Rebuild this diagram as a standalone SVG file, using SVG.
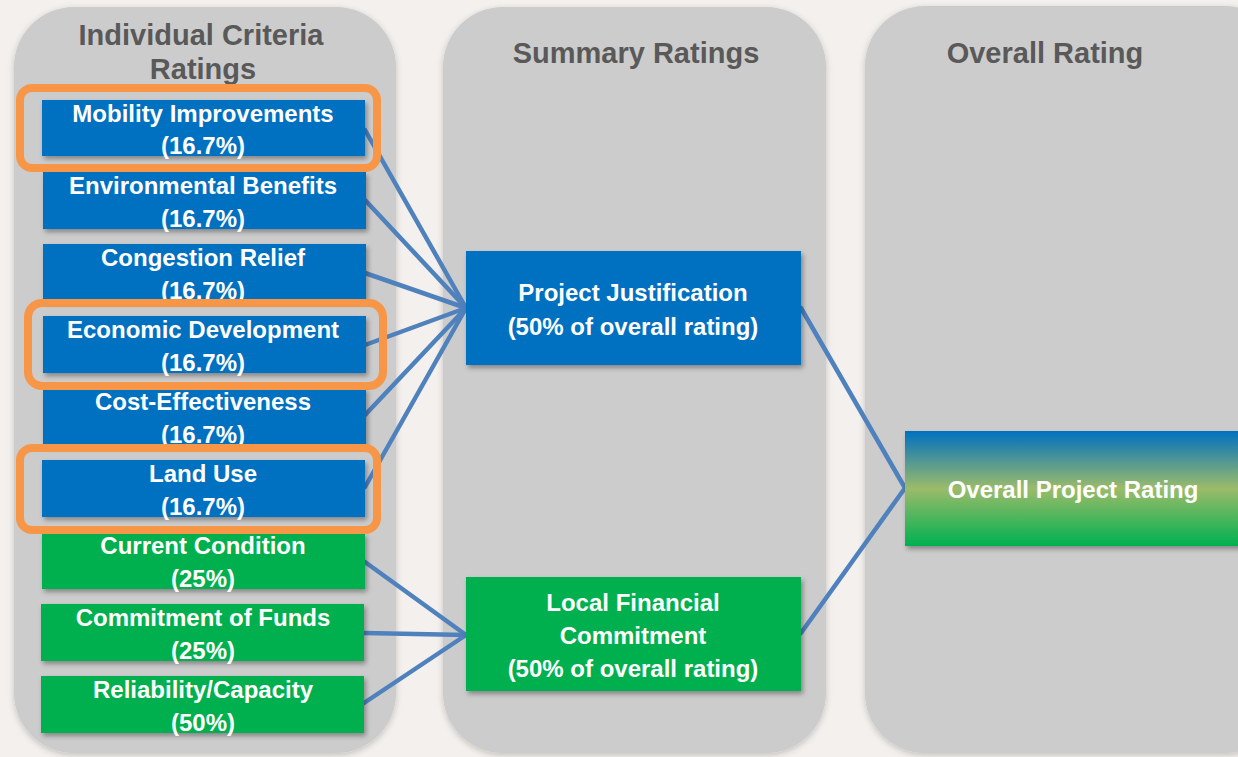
<svg xmlns="http://www.w3.org/2000/svg" width="1238" height="757" viewBox="0 0 1238 757">
<style>
.panel{fill:#cccccc;filter:url(#ps)}
.title{font-family:"Liberation Sans",Arial,sans-serif;font-weight:bold;font-size:29px;fill:#595959;text-anchor:middle}
.blue{fill:#0070c0;filter:url(#sh)}
.green{fill:#00b050;filter:url(#sh)}
.lbl{font-family:"Liberation Sans",Arial,sans-serif;font-weight:bold;font-size:24px;fill:#ffffff;text-anchor:middle}
.hl{fill:none;stroke:#f79646;stroke-width:8}
.conn line{stroke:#4f81bd;stroke-width:4.5;stroke-linecap:round}
</style>
<defs>
<filter id="sh" x="-10%" y="-20%" width="125%" height="150%">
<feDropShadow dx="2" dy="3" stdDeviation="2.5" flood-color="#000" flood-opacity="0.35"/>
</filter>
<filter id="ps" x="-10%" y="-10%" width="120%" height="120%">
<feDropShadow dx="0" dy="2" stdDeviation="3" flood-color="#000" flood-opacity="0.2"/>
</filter>
<linearGradient id="og" x1="0" y1="0" x2="0" y2="1">
<stop offset="0" stop-color="#0070c0"/>
<stop offset="0.5" stop-color="#9bbb6a"/>
<stop offset="1" stop-color="#00b050"/>
</linearGradient>
</defs>
<rect width="1238" height="757" fill="#f3f0ed"/>
<g id="panel-individual">
<rect class="panel" x="14" y="7" width="382" height="746" rx="60"/>
<text class="title" x="201" y="45">Individual Criteria</text>
<text class="title" x="203" y="79">Ratings</text>
</g>
<g id="panel-summary">
<rect class="panel" x="443" y="7" width="383" height="746" rx="60"/>
<text class="title" x="636" y="63">Summary Ratings</text>
</g>
<g id="panel-overall">
<rect class="panel" x="865" y="6" width="420" height="747" rx="60"/>
<text class="title" x="1045" y="63">Overall Rating</text>
</g>
<g id="connectors" class="conn">
<line x1="365" y1="130" x2="466" y2="308"/>
<line x1="365" y1="200" x2="466" y2="308"/>
<line x1="365" y1="273" x2="466" y2="308"/>
<line x1="365" y1="345" x2="466" y2="308"/>
<line x1="365" y1="415" x2="466" y2="308"/>
<line x1="365" y1="487" x2="466" y2="308"/>
<line x1="365" y1="562" x2="466" y2="635"/>
<line x1="364" y1="633" x2="466" y2="635"/>
<line x1="364" y1="703" x2="466" y2="635"/>
<line x1="801" y1="308" x2="905" y2="488"/>
<line x1="801" y1="633" x2="905" y2="488"/>
</g>
<g id="mobility">
<rect class="blue" x="42" y="100" width="323" height="56"/>
<text class="lbl" x="203" y="122">Mobility Improvements</text>
<text class="lbl" x="203" y="154">(16.7%)</text>
</g>
<g id="environmental">
<rect class="blue" x="43" y="172" width="323" height="57"/>
<text class="lbl" x="203" y="194">Environmental Benefits</text>
<text class="lbl" x="203" y="227">(16.7%)</text>
</g>
<g id="congestion">
<rect class="blue" x="43" y="244" width="323" height="57"/>
<text class="lbl" x="203" y="266">Congestion Relief</text>
<text class="lbl" x="203" y="299">(16.7%)</text>
</g>
<g id="economic">
<rect class="blue" x="43" y="316" width="323" height="57"/>
<text class="lbl" x="203" y="338">Economic Development</text>
<text class="lbl" x="203" y="371">(16.7%)</text>
</g>
<g id="cost">
<rect class="blue" x="43" y="388" width="323" height="57"/>
<text class="lbl" x="203" y="410">Cost-Effectiveness</text>
<text class="lbl" x="203" y="443">(16.7%)</text>
</g>
<g id="landuse">
<rect class="blue" x="42" y="460" width="323" height="57"/>
<text class="lbl" x="203" y="482">Land Use</text>
<text class="lbl" x="203" y="515">(16.7%)</text>
</g>
<g id="current">
<rect class="green" x="42" y="533" width="323" height="56"/>
<text class="lbl" x="203" y="554">Current Condition</text>
<text class="lbl" x="203" y="587">(25%)</text>
</g>
<g id="funds">
<rect class="green" x="41" y="604" width="323" height="57"/>
<text class="lbl" x="203" y="626">Commitment of Funds</text>
<text class="lbl" x="203" y="659">(25%)</text>
</g>
<g id="reliability">
<rect class="green" x="41" y="676" width="323" height="57"/>
<text class="lbl" x="203" y="698">Reliability/Capacity</text>
<text class="lbl" x="203" y="731">(50%)</text>
</g>
<g id="highlights">
<rect class="hl" x="20" y="88" width="357" height="80" rx="12"/>
<rect class="hl" x="28" y="303" width="355" height="83" rx="14"/>
<rect class="hl" x="20" y="448" width="357" height="82" rx="12"/>
</g>
<g id="project-justification">
<rect class="blue" x="466" y="251" width="335" height="114"/>
<text class="lbl" x="633" y="301">Project Justification</text>
<text class="lbl" x="633" y="335">(50% of overall rating)</text>
</g>
<g id="local-financial">
<rect class="green" x="466" y="577" width="335" height="114"/>
<text class="lbl" x="633" y="611">Local Financial</text>
<text class="lbl" x="633" y="644">Commitment</text>
<text class="lbl" x="633" y="677">(50% of overall rating)</text>
</g>
<g id="overall-project">
<rect x="905" y="431" width="340" height="115" fill="url(#og)" filter="url(#sh)"/>
<text class="lbl" x="1073" y="498">Overall Project Rating</text>
</g>
</svg>
